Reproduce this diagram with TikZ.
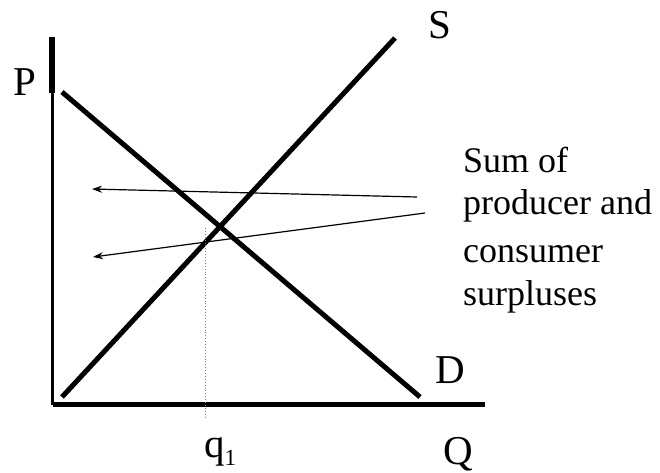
\documentclass[tikz,border=0pt]{standalone}
\usepackage{fontspec}
\setmainfont{Liberation Serif}
\usetikzlibrary{arrows.meta}
\begin{document}
\begin{tikzpicture}[x=1pt,y=-1pt,
  lbl/.style={font=\fontsize{41}{45}\selectfont, inner sep=0pt, anchor=base west},
  txt/.style={font=\fontsize{36}{40}\selectfont, inner sep=0pt, anchor=base west},
  curve/.style={line width=5pt},
  pointer/.style={line width=1.2pt, -{Stealth[length=10pt,width=7pt]}},
  guide/.style={gray, line width=0.9pt, dotted}]
\useasboundingbox (0,0) rectangle (660,472);
% axes
\coordinate (ytop) at (52,37);
\coordinate (ymid) at (52,93);
\coordinate (origin) at (52,404.5);
\coordinate (xend) at (485,404.5);
\draw[line width=3pt] (ymid) -- (origin);
\draw[line width=5.5pt] (ytop) -- (ymid);
\draw[line width=5pt] (origin) ++(1,0) -- (xend);
% curves
\coordinate (d0) at (62,92);
\coordinate (d1) at (420,397);
\coordinate (s0) at (62,397);
\coordinate (s1) at (395,38);
\draw[curve] (d0) -- (d1);
\draw[curve] (s0) -- (s1);
% q1 guide
\coordinate (g0) at (205,228);
\coordinate (g1) at (205,417);
\draw[guide] (g0) -- (g1);
% arrows
\coordinate (a1s) at (417,197);
\coordinate (a1e) at (92,189);
\coordinate (a2s) at (425,213);
\coordinate (a2e) at (93,257);
\draw[pointer] (a1s) -- (a1e);
\draw[pointer] (a2s) -- (a2e);
% labels
\node[lbl] (P) at (13,95) {P};
\node[lbl] (S) at (428,38) {S};
\node[lbl] (D) at (435,383) {D};
\node[lbl] (Q) at (443,464) {Q};
\node[lbl] (q) at (204,457) {q\raisebox{-8pt}{\fontsize{23}{25}\selectfont 1}};
\node[txt] (t1) at (463,172) {Sum of};
\node[txt] (t2) at (463,214) {producer and};
\node[txt] (t3) at (463,262) {consumer};
\node[txt] (t4) at (463,305) {surpluses};
\end{tikzpicture}
\end{document}
